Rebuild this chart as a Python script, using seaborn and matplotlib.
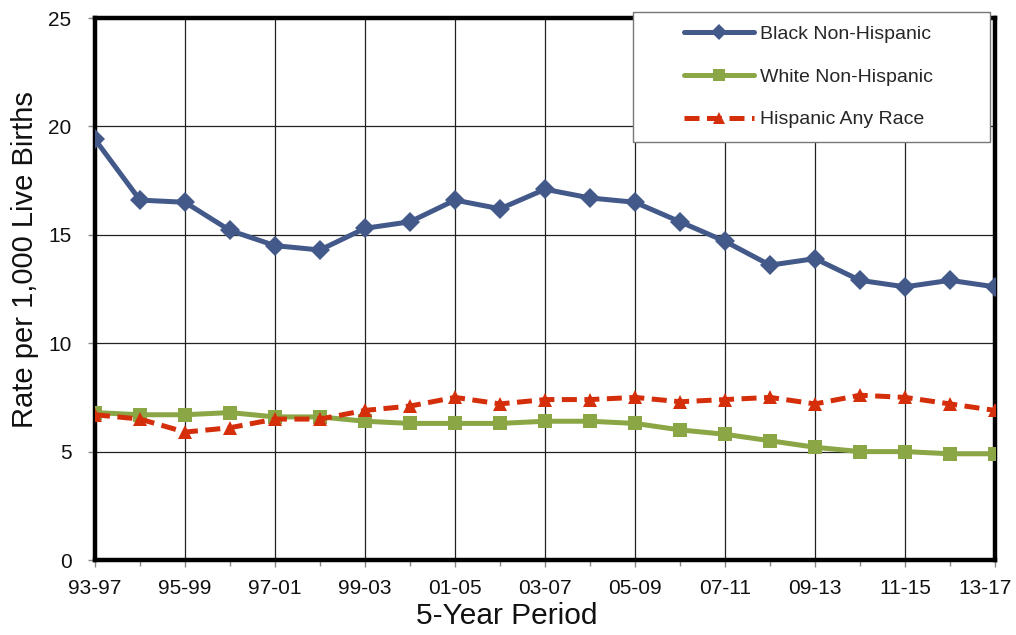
import numpy as np
import pandas as pd
import matplotlib
matplotlib.use("Agg")
import matplotlib.pyplot as plt
from matplotlib.patches import Rectangle
from matplotlib.transforms import ScaledTranslation
import seaborn as sns

periods = ["93-97", "94-98", "95-99", "96-00", "97-01", "98-02", "99-03", "00-04",
           "01-05", "02-06", "03-07", "04-08", "05-09", "06-10", "07-11", "08-12",
           "09-13", "10-14", "11-15", "12-16", "13-17"]
black = [19.4, 16.6, 16.5, 15.2, 14.5, 14.3, 15.3, 15.6, 16.6, 16.2, 17.1,
         16.7, 16.5, 15.6, 14.7, 13.6, 13.9, 12.9, 12.6, 12.9, 12.6]
white = [6.8, 6.7, 6.7, 6.8, 6.6, 6.6, 6.4, 6.3, 6.3, 6.3, 6.4,
         6.4, 6.3, 6.0, 5.8, 5.5, 5.2, 5.0, 5.0, 4.9, 4.9]
hispanic = [6.7, 6.5, 5.9, 6.1, 6.5, 6.5, 6.9, 7.1, 7.5, 7.2, 7.4,
            7.4, 7.5, 7.3, 7.4, 7.5, 7.2, 7.6, 7.5, 7.2, 6.9]
series_names = ["Black Non-Hispanic", "White Non-Hispanic", "Hispanic Any Race"]

sns.set_theme(style="white")
plt.rcParams["font.family"] = ["Liberation Sans", "DejaVu Sans"]

idx = list(range(len(periods)))
df = pd.concat([
    pd.DataFrame({"x": idx, "Period": periods, "Rate": vals, "Group": name})
    for name, vals in zip(series_names, [black, white, hispanic])
], ignore_index=True)

colors = {"Black Non-Hispanic": "#435989",
          "White Non-Hispanic": "#8AA645",
          "Hispanic Any Race": "#D42E0B"}
markers = {"Black Non-Hispanic": "D",
           "White Non-Hispanic": "s",
           "Hispanic Any Race": "^"}
dashes = {"Black Non-Hispanic": "",
          "White Non-Hispanic": "",
          "Hispanic Any Race": (3, 1.5)}

fig = plt.figure(figsize=(10.16, 6.35), dpi=100)
ax = fig.add_axes([95 / 1016, 1 - 560 / 635, 900 / 1016, 542 / 635])

sns.lineplot(data=df, x="x", y="Rate", hue="Group", style="Group",
             hue_order=series_names, style_order=series_names,
             palette=colors, markers=markers, dashes=dashes,
             linewidth=3.6, markersize=10, markeredgewidth=0,
             ax=ax, legend=False, zorder=3)

ax.set_xlim(0, len(periods) - 1)
ax.set_ylim(0, 25)
ax.set_yticks([0, 5, 10, 15, 20, 25])
ax.set_xticks(idx[::2])
ax.set_xticklabels(periods[::2])
ax.set_xticks(idx, minor=True)
ax.grid(True, which="major", color="#222222", linewidth=0.9)
ax.tick_params(axis="both", which="major", labelsize=15, length=5, width=1,
               color="#888888", direction="out", bottom=True, left=True)
ax.tick_params(axis="x", which="major", pad=9)
ax.tick_params(axis="y", which="major", pad=12)
ax.tick_params(axis="x", which="minor", length=4, width=1, color="#888888",
               direction="out", bottom=True)
for lab in ax.get_xticklabels() + ax.get_yticklabels():
    lab.set_color("#111111")
# shift last x label left so it stays inside the figure
last = ax.get_xticklabels()[-1]
last.set_transform(last.get_transform() + ScaledTranslation(-10 / 100, 0, fig.dpi_scale_trans))
for sp in ax.spines.values():
    sp.set_color("black")
    sp.set_linewidth(3.2)
    sp.set_visible(True)
ax.set_xlabel("5-Year Period", fontsize=21.5, color="#111111")
ax.xaxis.set_label_coords(0.457, -0.077)
ax.set_ylabel("Rate per 1,000 Live Births", fontsize=21, color="#111111")
ax.yaxis.set_label_coords(-0.062, 0.555)

# Legend box
rect = Rectangle((633 / 1016, 1 - 142 / 635), 357 / 1016, 130 / 635,
                 transform=fig.transFigure, facecolor="white",
                 edgecolor="#777777", linewidth=1.0, zorder=5)
fig.patches.append(rect)

handles = []
for name in series_names:
    h, = ax.plot([], [], color=colors[name], marker=markers[name],
                 markersize=10, markeredgewidth=0, linewidth=3.6,
                 linestyle="--" if name == "Hispanic Any Race" else "-")
    if name == "Hispanic Any Race":
        h.set_dashes((3, 1.5))
    handles.append(h)
leg = fig.legend(handles, series_names, loc="upper left",
                 bbox_to_anchor=(684 / 1016, 1 - 25 / 635),
                 bbox_transform=fig.transFigure, frameon=False,
                 fontsize=14, handlelength=3.6, handletextpad=0.3,
                 labelspacing=1.3, borderpad=0, borderaxespad=0,
                 markerscale=0.8)
leg.set_zorder(6)

fig.savefig("out.png", dpi=100)
